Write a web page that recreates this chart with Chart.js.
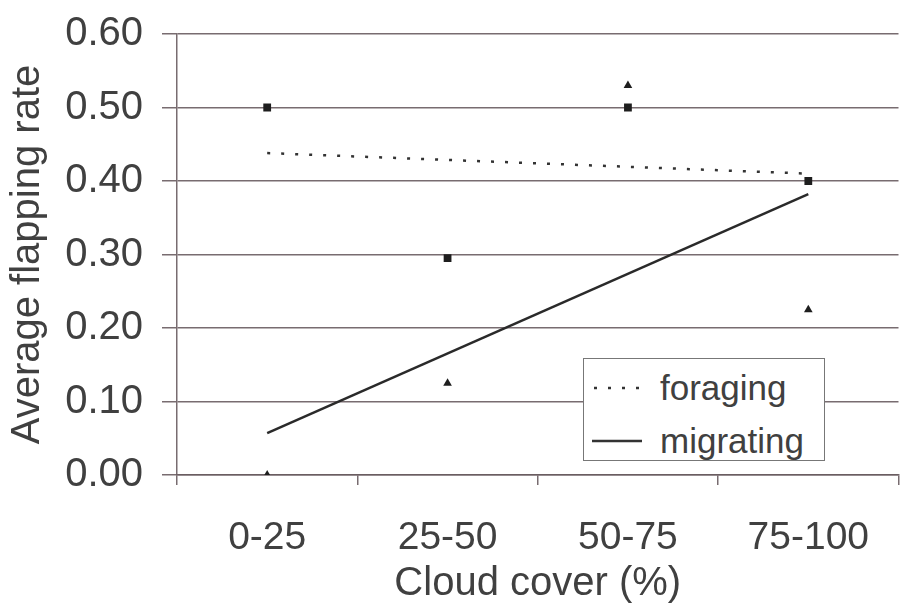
<!DOCTYPE html>
<html>
<head>
<meta charset="utf-8">
<script src="https://cdn.jsdelivr.net/npm/chart.js@4.4.1/dist/chart.umd.min.js"></script>
<style>
  html, body { margin: 0; padding: 0; background: #fff; }
  #wrap { position: relative; width: 904px; height: 604px; }
  #legendBox {
    position: absolute; left: 583px; top: 358px; width: 240px; height: 101px;
    border: 1.5px solid #777; background: #fff;
    font-family: "Liberation Sans", Arial, sans-serif; font-size: 35px; color: #404040;
  }
  .row { position: absolute; left: 8px; height: 40px; line-height: 40px; display: flex; align-items: center; }
  .row svg { margin-right: 18px; }
</style>
</head>
<body>
<div id="wrap">
  <canvas id="flapChart"></canvas>
  <div id="legendBox">
    <div class="row" style="top: 9px;">
      <svg width="50" height="10"><line x1="2" y1="5" x2="50" y2="5" stroke="#333" stroke-width="2.5" stroke-dasharray="3 11"/></svg>
      <span>foraging</span>
    </div>
    <div class="row" style="top: 62px;">
      <svg width="50" height="10"><line x1="0" y1="5" x2="50" y2="5" stroke="#333" stroke-width="2.5"/></svg>
      <span>migrating</span>
    </div>
  </div>
</div>
<script>
const categories = ['0-25', '25-50', '50-75', '75-100'];
const foragingValues = [0.50, 0.295, 0.50, 0.40];
const migratingValues = [0.00, 0.125, 0.53, 0.225];
// trend lines, value at first and last category
const foragingTrend = [0.438, 0.410];
const migratingTrend = [0.057, 0.382];
const yTickValues = [0, 0.1, 0.2, 0.3, 0.4, 0.5, 0.6];

const gridColor = 'rgba(105, 92, 96, 0.9)';
const textColor = '#404040';
const fontFamily = '"Liberation Sans", Arial, sans-serif';

function trendPoints(vals) {
    return [
        { x: categories[0], y: vals[0] },
        { x: categories[categories.length - 1], y: vals[1] }
    ];
}

new Chart(document.getElementById('flapChart'), {
    type: 'line',
    data: {
        labels: categories,
        datasets: [
            {
                label: 'foraging',
                data: foragingValues,
                showLine: false,
                pointStyle: 'rect',
                pointRadius: 5.5,
                backgroundColor: '#1e1e1e',
                borderColor: '#1e1e1e',
                borderWidth: 0,
                order: 0
            },
            {
                label: 'migrating',
                data: migratingValues,
                showLine: false,
                pointStyle: 'triangle',
                pointRadius: 5,
                backgroundColor: '#1e1e1e',
                borderColor: '#1e1e1e',
                borderWidth: 0,
                order: 0
            },
            {
                label: 'foraging trend',
                data: trendPoints(foragingTrend),
                borderColor: '#333',
                borderWidth: 2.5,
                borderDash: [3, 11],
                pointRadius: 0,
                fill: false,
                order: 1
            },
            {
                label: 'migrating trend',
                data: trendPoints(migratingTrend),
                borderColor: '#2a2a2a',
                borderWidth: 2.5,
                pointRadius: 0,
                fill: false,
                order: 1
            }
        ]
    },
    options: {
        responsive: true,
        maintainAspectRatio: false,
        animation: false,
        layout: { padding: { top: 34, right: 0, left: 0, bottom: 0 } },
        plugins: {
            legend: { display: false },
            tooltip: { enabled: false }
        },
        scales: {
            x: {
                type: 'category',
                offset: true,
                grid: {
                    offset: true,
                    drawOnChartArea: false,
                    drawTicks: true,
                    tickLength: 10,
                    color: gridColor,
                    lineWidth: 1.5
                },
                border: { display: true, color: gridColor, width: 1.5 },
                ticks: {
                    color: textColor,
                    font: { family: fontFamily, size: 39 },
                    padding: 30,
                    maxRotation: 0,
                    autoSkip: false
                },
                title: {
                    display: true,
                    text: 'Cloud cover (%)',
                    color: textColor,
                    font: { family: fontFamily, size: 40, lineHeight: 1 },
                    padding: 0
                },
                afterFit(scale) {
                    scale.height = 129;
                    scale.paddingLeft = 0;
                    scale.paddingRight = 0;
                }
            },
            y: {
                min: 0,
                max: 0.6,
                afterBuildTicks(scale) {
                    scale.ticks = yTickValues.map(v => ({ value: v }));
                },
                grid: {
                    color: gridColor,
                    lineWidth: 1.5,
                    drawTicks: true,
                    tickLength: 15
                },
                border: { display: true, color: gridColor, width: 1.5 },
                ticks: {
                    color: textColor,
                    font: { family: fontFamily, size: 40 },
                    padding: 19,
                    callback: v => v.toFixed(2)
                },
                title: {
                    display: true,
                    text: 'Average flapping rate',
                    color: textColor,
                    font: { family: fontFamily, size: 40, lineHeight: 1 },
                    padding: { top: 8, bottom: 0 }
                },
                afterFit(scale) {
                    scale.width = 177;
                    scale.paddingTop = 0;
                    scale.paddingBottom = 0;
                }
            }
        }
    }
});
</script>
</body>
</html>
